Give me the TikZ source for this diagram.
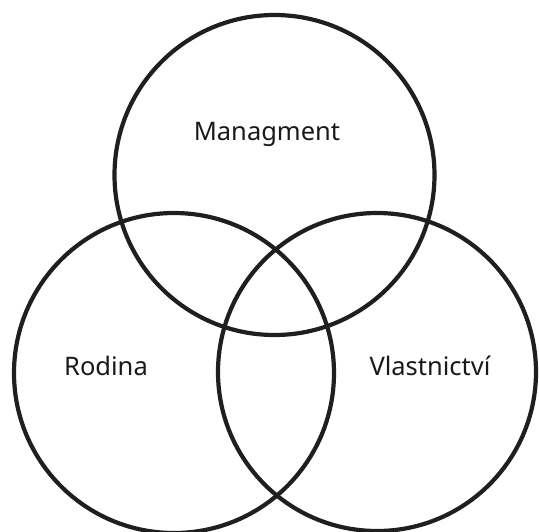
\documentclass[tikz,border=0pt]{standalone}
\usepackage{fontspec}
\setmainfont{Noto Sans}
\begin{document}
\begin{tikzpicture}[x=1pt,y=-1pt,
  ring/.style={draw=black!88,line width=4.2pt},
  lbl/.style={font=\fontsize{25.5}{30}\selectfont,text=black!90,anchor=base,inner sep=0pt}]
\useasboundingbox (0,0) rectangle (539,531);
\begin{scope}
\clip (0,0) rectangle (539,531);
\draw[ring] (274.5,175) circle[radius=160];
\draw[ring] (174,373) circle[radius=160];
\draw[ring] (377,372) circle[radius=159];
\end{scope}
\node[lbl] (m) at (267,140) {Managment};
\node[lbl] (r) at (106,375) {Rodina};
\node[lbl] (v) at (430,375) {Vlastnictví};
\end{tikzpicture}
\end{document}
